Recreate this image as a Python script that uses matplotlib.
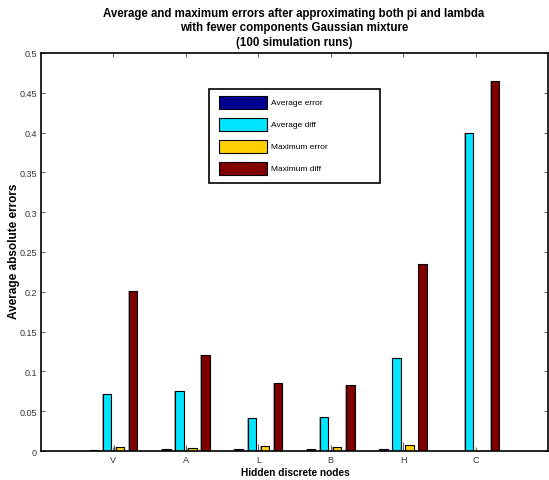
import matplotlib
matplotlib.use("Agg")
import matplotlib.pyplot as plt
from matplotlib.patches import Rectangle
import numpy as np

plt.rcParams['font.family'] = ['Liberation Sans', 'DejaVu Sans']

categories = ['V', 'A', 'L', 'B', 'H', 'C']
avg_error = [0.001, 0.002, 0.002, 0.002, 0.003, 0.0005]
avg_diff = [0.072, 0.076, 0.042, 0.043, 0.117, 0.400]
max_error = [0.005, 0.004, 0.006, 0.005, 0.008, 0.0005]
max_diff = [0.201, 0.120, 0.085, 0.083, 0.235, 0.465]
series_names = ['Average error', 'Average diff', 'Maximum error', 'Maximum diff']
colors = ['#00008F', '#00E5FF', '#FFCF00', '#800000']
yticks = [0, 0.05, 0.1, 0.15, 0.2, 0.25, 0.3, 0.35, 0.4, 0.45, 0.5]

W, H = 549, 481
fig = plt.figure(figsize=(W / 100, H / 100), dpi=100)
ax = fig.add_axes([41 / W, 1 - 452 / H, 507 / W, 398 / H])

x = np.arange(1, len(categories) + 1)
offsets = [-0.27, -0.09, 0.09, 0.27]
width = 0.117
series = [avg_error, avg_diff, max_error, max_diff]
for vals, off, col in zip(series, offsets, colors):
    ax.bar(x + off, vals, width * 1.18, color='#B0B0B0', edgecolor='none', zorder=1)
    ax.bar(x + off, vals, width, color=col, edgecolor='black', linewidth=0.8, zorder=2)

# small marks left of the yellow bars
ax.vlines(x + offsets[2] - width / 2 - 0.03, 0, np.array(max_error) + 0.003,
          color='#606060', linewidth=0.8, zorder=2)

ax.set_xlim(0, 7)
ax.set_ylim(0, 0.5)
ax.set_xticks(x)
ax.set_xticklabels(categories)
ax.set_yticks(yticks)
ax.set_yticklabels([f'{v:g}' for v in yticks])
ax.tick_params(direction='in', length=3, labelsize=6.5, labelcolor='#333333',
               top=True, right=True, width=0.6, color='#444444', pad=3)
for s in ax.spines.values():
    s.set_linewidth(1.2)

fig.text(14 / W, 1 - 251 / H, 'Average absolute errors', rotation=90, ha='center',
         va='center', fontsize=8.5, fontweight='bold')
fig.text(295 / W, 1 - 473 / H, 'Hidden discrete nodes', ha='center', va='center',
         fontsize=7.3, fontweight='bold')
fig.text(294 / W, 1 - 8 / H, 'Average and maximum errors after approximating both pi and lambda\n'
         'with fewer components Gaussian mixture\n(100 simulation runs)',
         ha='center', va='top', fontsize=8.3, fontweight='bold', linespacing=1.27)

# legend drawn manually in figure pixel coordinates
def fx(px):
    return px / W

def fy(py):
    return 1 - py / H

fig.add_artist(Rectangle((fx(209), fy(184)), fx(380) - fx(209), fy(90) - fy(184),
                         transform=fig.transFigure, facecolor='white', edgecolor='black',
                         linewidth=1.2, zorder=5))
tops = [97, 119, 141, 163]
for name, col, t in zip(series_names, colors, tops):
    fig.add_artist(Rectangle((fx(219), fy(t + 13)), fx(267) - fx(219), fy(t) - fy(t + 13),
                             transform=fig.transFigure, facecolor=col, edgecolor='black',
                             linewidth=0.8, zorder=6))
    fig.text(fx(271), fy(t + 6.5), name, ha='left', va='center', fontsize=6, zorder=7)

fig.savefig('out.png', dpi=100)
